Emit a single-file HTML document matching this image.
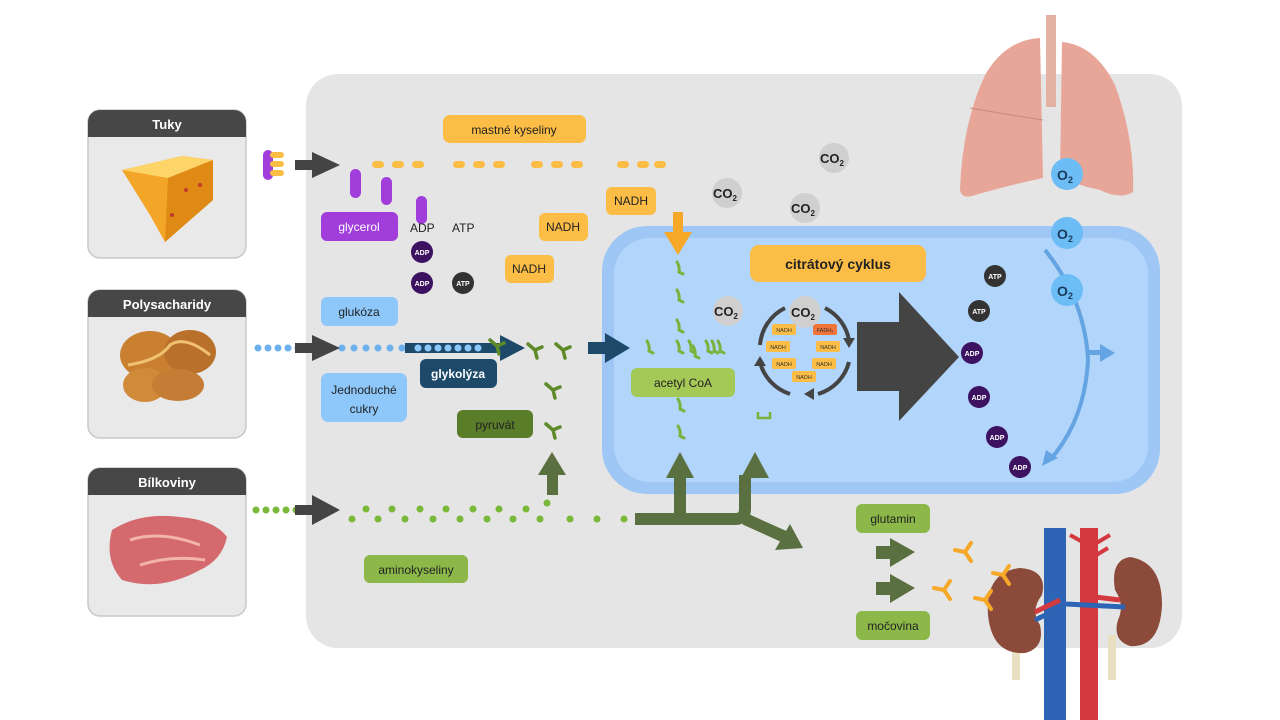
<!DOCTYPE html>
<html><head><meta charset="utf-8"><style>
html,body{margin:0;padding:0;background:#fff;}
svg{display:block;font-family:"Liberation Sans",sans-serif;}
</style></head><body>
<svg width="1280" height="720" viewBox="0 0 1280 720" xmlns="http://www.w3.org/2000/svg">
<defs>
<g id="gl"><path d="M-3,-6 Q0,-1 -1,4 L3,6" stroke="#7ab23c" stroke-width="3" fill="none" stroke-linecap="round"/></g>
<g id="py"><path d="M0,0 L-7,-6 M0,0 L7,-3 M0,0 L2,8" stroke="#5e8a2a" stroke-width="3.5" fill="none" stroke-linecap="round"/></g>
<g id="yo"><path d="M0,0 L-10,-2 M0,0 L6,-9 M0,0 L6,9" stroke="#f6a828" stroke-width="4" fill="none" stroke-linecap="round"/></g>
</defs>
<rect x="306" y="74" width="876" height="574" rx="32" fill="#e5e5e5"/>

<g>
<rect x="88" y="110" width="158" height="148" rx="12" fill="#e9e9e9" stroke="#c8c8c8" stroke-width="1.5"/>
<path d="M88,137 V122 a12,12 0 0 1 12,-12 H234 a12,12 0 0 1 12,12 V137 Z" fill="#474747"/>
<text x="167" y="129" font-size="13" font-weight="bold" fill="#fff" text-anchor="middle">Tuky</text>
<polygon points="122,170 182,156 213,160 213,200 165,242 150,215" fill="#f2a526"/>
<polygon points="122,170 182,156 213,160 168,178" fill="#fcd468"/>
<polygon points="168,178 213,160 213,200 165,242" fill="#de8a14"/>
<circle cx="200" cy="185" r="2" fill="#c0392b"/><circle cx="186" cy="190" r="2" fill="#c0392b"/><circle cx="172" cy="215" r="2" fill="#c0392b"/>

<rect x="88" y="290" width="158" height="148" rx="12" fill="#e9e9e9" stroke="#c8c8c8" stroke-width="1.5"/>
<path d="M88,317 V302 a12,12 0 0 1 12,-12 H234 a12,12 0 0 1 12,12 V317 Z" fill="#474747"/>
<text x="167" y="309" font-size="13" font-weight="bold" fill="#fff" text-anchor="middle">Polysacharidy</text>
<ellipse cx="150" cy="355" rx="30" ry="24" fill="#c98030"/>
<ellipse cx="190" cy="352" rx="26" ry="22" fill="#b8702a"/>
<ellipse cx="145" cy="385" rx="22" ry="17" fill="#d18a3a"/>
<ellipse cx="178" cy="385" rx="26" ry="16" fill="#c57d35"/>
<path d="M128,365 Q160,360 170,345 Q185,335 210,355" stroke="#f0c170" stroke-width="3" fill="none"/>

<rect x="88" y="468" width="158" height="148" rx="12" fill="#e9e9e9" stroke="#c8c8c8" stroke-width="1.5"/>
<path d="M88,495 V480 a12,12 0 0 1 12,-12 H234 a12,12 0 0 1 12,12 V495 Z" fill="#474747"/>
<text x="167" y="487" font-size="13" font-weight="bold" fill="#fff" text-anchor="middle">Bílkoviny</text>
<path d="M112,530 Q140,512 180,517 Q215,520 227,537 Q222,560 200,570 Q160,592 122,580 Q104,560 112,530 Z" fill="#d46a6e"/>
<path d="M130,540 Q160,530 200,545 M140,565 Q170,555 205,560" stroke="#f2b5a8" stroke-width="3" fill="none"/>
</g>

<!-- lungs -->
<rect x="1046" y="15" width="10" height="92" fill="#e5b1a2"/>
<path d="M1040,38 Q1005,40 985,75 Q962,125 960,190 Q962,200 975,195 Q1010,185 1043,178 Z" fill="#e8a698"/>
<path d="M1062,42 Q1095,45 1115,85 Q1135,140 1133,192 Q1120,200 1100,190 Q1075,185 1060,175 Z" fill="#e8a698"/>
<path d="M970,108 Q1010,115 1043,120" stroke="#c98a7e" fill="none"/>

<!-- mitochondrion -->
<rect x="602" y="226" width="558" height="268" rx="45" fill="#9ec7f6"/>
<rect x="614" y="238" width="534" height="244" rx="36" fill="#b2d5fb"/>

<!-- kidneys -->
<rect x="1044" y="528" width="22" height="192" fill="#2e64b5"/>
<rect x="1080" y="528" width="18" height="192" fill="#d4393f"/>
<path d="M1088,545 L1070,535 M1088,560 L1108,548 M1088,548 L1110,535" stroke="#d4393f" stroke-width="4"/>
<rect x="1012" y="640" width="8" height="40" fill="#e8e0c0"/><rect x="1108" y="635" width="8" height="45" fill="#e8e0c0"/>
<path d="M1020,568 Q985,572 988,615 Q992,655 1025,653 Q1045,648 1040,625 Q1030,610 1042,595 Q1048,570 1020,568 Z" fill="#8b4a3a"/>
<path d="M1130,557 Q1162,562 1162,605 Q1160,648 1130,646 Q1112,640 1118,620 Q1125,605 1115,590 Q1110,560 1130,557 Z" fill="#8b4a3a"/>
<path d="M1035,612 L1060,600 M1120,600 L1095,597" stroke="#d4393f" stroke-width="5"/>
<path d="M1035,620 L1060,608 M1125,607 L1066,604" stroke="#2e64b5" stroke-width="5"/>
<use href="#yo" x="965" y="552"/><use href="#yo" x="1003" y="575"/><use href="#yo" x="944" y="590"/><use href="#yo" x="985" y="600"/>

<!-- fat input -->
<rect x="263" y="150" width="10" height="30" rx="5" fill="#a03ddb"/>
<rect x="270" y="152" width="14" height="6" rx="3" fill="#fbbd45"/><rect x="270" y="161" width="14" height="6" rx="3" fill="#fbbd45"/><rect x="270" y="170" width="14" height="6" rx="3" fill="#fbbd45"/>
<rect x="295" y="160" width="20" height="10" fill="#444"/>
<polygon points="312,152 340,165 312,178" fill="#444"/>
<g fill="#fbbd45">
<rect x="372" y="161" width="12" height="7" rx="3.5"/><rect x="392" y="161" width="12" height="7" rx="3.5"/><rect x="412" y="161" width="12" height="7" rx="3.5"/>
<rect x="453" y="161" width="12" height="7" rx="3.5"/><rect x="473" y="161" width="12" height="7" rx="3.5"/><rect x="493" y="161" width="12" height="7" rx="3.5"/>
<rect x="531" y="161" width="12" height="7" rx="3.5"/><rect x="551" y="161" width="12" height="7" rx="3.5"/><rect x="571" y="161" width="12" height="7" rx="3.5"/>
<rect x="617" y="161" width="12" height="7" rx="3.5"/><rect x="637" y="161" width="12" height="7" rx="3.5"/><rect x="654" y="161" width="12" height="7" rx="3.5"/>
</g>
<g fill="#a03ddb">
<rect x="350" y="169" width="11" height="29" rx="5.5"/><rect x="381" y="177" width="11" height="28" rx="5.5"/><rect x="416" y="196" width="11" height="28" rx="5.5"/>
</g>
<rect x="443" y="115" width="143" height="28" rx="7" fill="#fbbd45"/>
<text x="514" y="134" font-size="12" text-anchor="middle" fill="#222">mastné kyseliny</text>
<rect x="321" y="212" width="77" height="29" rx="6" fill="#a03ddb"/>
<text x="359" y="231" font-size="12" text-anchor="middle" fill="#fff">glycerol</text>
<text x="410" y="232" font-size="12" fill="#222">ADP</text>
<text x="452" y="232" font-size="12" fill="#222">ATP</text>
<g font-size="7" font-weight="bold" fill="#fff" text-anchor="middle">
<circle cx="422" cy="252" r="11" fill="#3d1260"/><text x="422" y="255">ADP</text>
<circle cx="422" cy="283" r="11" fill="#3d1260"/><text x="422" y="286">ADP</text>
<circle cx="463" cy="283" r="11" fill="#333"/><text x="463" y="286">ATP</text>
</g>
<g font-size="12" text-anchor="middle" fill="#222">
<rect x="539" y="213" width="49" height="28" rx="6" fill="#fbbd45"/><text x="563" y="231">NADH</text>
<rect x="505" y="255" width="49" height="28" rx="6" fill="#fbbd45"/><text x="529" y="273">NADH</text>
<rect x="606" y="187" width="50" height="28" rx="6" fill="#fbbd45"/><text x="631" y="205">NADH</text>
</g>

<!-- carbs -->
<g fill="#6cb0ee">
<circle cx="258" cy="348" r="3.5"/><circle cx="268" cy="348" r="3.5"/><circle cx="278" cy="348" r="3.5"/><circle cx="288" cy="348" r="3.5"/><circle cx="298" cy="348" r="3.5"/><circle cx="307" cy="348" r="3.5"/>
<circle cx="342" cy="348" r="3.5"/><circle cx="354" cy="348" r="3.5"/><circle cx="366" cy="348" r="3.5"/><circle cx="378" cy="348" r="3.5"/><circle cx="390" cy="348" r="3.5"/><circle cx="402" cy="348" r="3.5"/><circle cx="414" cy="348" r="3.5"/>
</g>
<rect x="295" y="343" width="20" height="10" fill="#444"/>
<polygon points="312,335 340,348 312,361" fill="#444"/>
<rect x="405" y="343" width="95" height="10" fill="#1e4a6a"/>
<g fill="#8ec8fa"><circle cx="418" cy="348" r="3.5"/><circle cx="428" cy="348" r="3.5"/><circle cx="438" cy="348" r="3.5"/><circle cx="448" cy="348" r="3.5"/><circle cx="458" cy="348" r="3.5"/><circle cx="468" cy="348" r="3.5"/><circle cx="478" cy="348" r="3.5"/></g>
<polygon points="500,335 525,348 500,361" fill="#1e4a6a"/>
<rect x="588" y="342" width="20" height="12" fill="#1e4a6a"/>
<polygon points="605,333 630,348 605,363" fill="#1e4a6a"/>
<use href="#py" x="497" y="346"/><use href="#py" x="535" y="350"/><use href="#py" x="563" y="350"/><use href="#py" x="553" y="390"/><use href="#py" x="553" y="430"/>
<rect x="321" y="297" width="77" height="29" rx="6" fill="#8ec8fa"/>
<text x="359" y="316" font-size="12" text-anchor="middle" fill="#222">glukóza</text>
<rect x="321" y="373" width="86" height="49" rx="7" fill="#8ec8fa"/>
<text x="364" y="394" font-size="12" text-anchor="middle" fill="#222">Jednoduché</text>
<text x="364" y="413" font-size="12" text-anchor="middle" fill="#222">cukry</text>
<rect x="420" y="359" width="77" height="29" rx="6" fill="#1e4a6a"/>
<text x="458" y="378" font-size="12" font-weight="bold" text-anchor="middle" fill="#fff">glykolýza</text>
<rect x="457" y="410" width="76" height="28" rx="6" fill="#5a7d2a"/>
<text x="495" y="429" font-size="12" text-anchor="middle" fill="#222">pyruvát</text>

<!-- proteins -->
<g fill="#7ab83a">
<circle cx="256" cy="510" r="3.5"/><circle cx="266" cy="510" r="3.5"/><circle cx="276" cy="510" r="3.5"/><circle cx="286" cy="510" r="3.5"/><circle cx="296" cy="510" r="3.5"/><circle cx="305" cy="510" r="3.5"/>
<circle cx="352" cy="519" r="3.5"/><circle cx="366" cy="509" r="3.5"/><circle cx="378" cy="519" r="3.5"/><circle cx="392" cy="509" r="3.5"/><circle cx="405" cy="519" r="3.5"/><circle cx="420" cy="509" r="3.5"/><circle cx="433" cy="519" r="3.5"/><circle cx="446" cy="509" r="3.5"/><circle cx="460" cy="519" r="3.5"/><circle cx="473" cy="509" r="3.5"/><circle cx="487" cy="519" r="3.5"/><circle cx="499" cy="509" r="3.5"/><circle cx="513" cy="519" r="3.5"/><circle cx="526" cy="509" r="3.5"/><circle cx="540" cy="519" r="3.5"/><circle cx="547" cy="503" r="3.5"/><circle cx="570" cy="519" r="3.5"/><circle cx="597" cy="519" r="3.5"/><circle cx="624" cy="519" r="3.5"/>
</g>
<rect x="295" y="505" width="20" height="10" fill="#444"/>
<polygon points="312,495 340,510 312,525" fill="#444"/>
<rect x="547" y="470" width="11" height="25" fill="#5a7040"/>
<polygon points="538,475 552,452 566,475" fill="#5a7040"/>
<path d="M635,519 H735 Q745,519 745,509 V475 M680,519 V475 M745,519 L785,537" stroke="#5a7040" stroke-width="12" fill="none"/>
<polygon points="666,478 680,452 694,478" fill="#5a7040"/>
<polygon points="741,478 755,452 769,478" fill="#5a7040"/>
<polygon points="775,550 803,548 790,524" fill="#5a7040"/>
<rect x="364" y="555" width="104" height="28" rx="6" fill="#8bb848"/>
<text x="416" y="574" font-size="12" text-anchor="middle" fill="#222">aminokyseliny</text>

<rect x="856" y="504" width="74" height="29" rx="6" fill="#8bb848"/>
<text x="893" y="523" font-size="12" text-anchor="middle" fill="#222">glutamin</text>
<rect x="856" y="611" width="74" height="29" rx="6" fill="#8bb848"/>
<text x="893" y="630" font-size="12" text-anchor="middle" fill="#222">močovina</text>
<rect x="876" y="546" width="20" height="13" fill="#5a7040"/><polygon points="890,538 915,552 890,567" fill="#5a7040"/>
<rect x="876" y="582" width="20" height="13" fill="#5a7040"/><polygon points="890,574 915,588 890,603" fill="#5a7040"/>

<rect x="673" y="212" width="10" height="24" fill="#f6a828"/>
<polygon points="664,232 678,255 692,232" fill="#f6a828"/>

<use href="#gl" x="680" y="268"/><use href="#gl" x="680" y="296"/><use href="#gl" x="680" y="326"/>
<use href="#gl" x="650" y="347"/><use href="#gl" x="680" y="347"/><use href="#gl" x="692" y="347"/><use href="#gl" x="696" y="352"/><use href="#gl" x="709" y="347"/><use href="#gl" x="715" y="347"/><use href="#gl" x="721" y="347"/>
<use href="#gl" x="681" y="405"/><use href="#gl" x="681" y="432"/>
<path d="M758,412 V418 H770 V412" stroke="#7ab23c" stroke-width="2.5" fill="none"/>
<rect x="631" y="368" width="104" height="29" rx="6" fill="#a5c956"/>
<text x="683" y="387" font-size="12" text-anchor="middle" fill="#222">acetyl CoA</text>

<rect x="750" y="245" width="176" height="37" rx="9" fill="#fbbd45"/>
<text x="838" y="269" font-size="14" font-weight="bold" text-anchor="middle" fill="#222">citrátový cyklus</text>

<g stroke="#444" stroke-width="4" fill="none">
<path d="M785,308 A45,45 0 0 0 760,345"/>
<path d="M825,308 A45,45 0 0 1 849,340"/>
<path d="M849,362 A45,45 0 0 1 818,394"/>
<path d="M790,394 A45,45 0 0 1 760,362"/>
</g>
<g fill="#444">
<polygon points="843,338 855,338 849,348"/>
<polygon points="814,388 814,400 804,394"/>
<polygon points="754,366 766,366 760,356"/>
</g>
<g font-size="5.5" text-anchor="middle" fill="#333">
<rect x="772" y="324" width="24" height="11" rx="2" fill="#fbbd45"/><text x="784" y="332">NADH</text>
<rect x="813" y="324" width="24" height="11" rx="2" fill="#f07338"/><text x="825" y="332">FADH₂</text>
<rect x="766" y="341" width="24" height="11" rx="2" fill="#fbbd45"/><text x="778" y="349">NADH</text>
<rect x="816" y="341" width="24" height="11" rx="2" fill="#fbbd45"/><text x="828" y="349">NADH</text>
<rect x="772" y="358" width="24" height="11" rx="2" fill="#fbbd45"/><text x="784" y="366">NADH</text>
<rect x="812" y="358" width="24" height="11" rx="2" fill="#fbbd45"/><text x="824" y="366">NADH</text>
<rect x="792" y="371" width="24" height="11" rx="2" fill="#fbbd45"/><text x="804" y="379">NADH</text>
</g>

<g font-size="13" font-weight="bold" fill="#222" text-anchor="middle">
<circle cx="834" cy="158" r="15" fill="#cfcfcf"/><text x="832" y="163">CO<tspan font-size="8" dy="3">2</tspan></text>
<circle cx="727" cy="193" r="15" fill="#cfcfcf"/><text x="725" y="198">CO<tspan font-size="8" dy="3">2</tspan></text>
<circle cx="805" cy="208" r="15" fill="#cfcfcf"/><text x="803" y="213">CO<tspan font-size="8" dy="3">2</tspan></text>
<circle cx="728" cy="311" r="15" fill="#cfcfcf"/><text x="726" y="316">CO<tspan font-size="8" dy="3">2</tspan></text>
<circle cx="805" cy="312" r="16" fill="#cfcfcf"/><text x="803" y="317">CO<tspan font-size="8" dy="3">2</tspan></text>
</g>

<rect x="857" y="322" width="45" height="69" fill="#444"/>
<polygon points="899,292 959,357 899,421" fill="#444"/>

<path d="M1045,250 Q1085,300 1088,360 Q1085,420 1050,460" stroke="#64a4e2" stroke-width="4" fill="none"/>
<polygon points="1042,466 1046,450 1058,458" fill="#64a4e2"/>
<rect x="1088" y="350" width="14" height="5" fill="#64a4e2"/>
<polygon points="1100,344 1115,353 1100,362" fill="#64a4e2"/>
<g font-size="14" font-weight="bold" fill="#1a3a5a" text-anchor="middle">
<circle cx="1067" cy="174" r="16" fill="#6cbcf5"/><text x="1065" y="180">O<tspan font-size="9" dy="3">2</tspan></text>
<circle cx="1067" cy="233" r="16" fill="#6cbcf5"/><text x="1065" y="239">O<tspan font-size="9" dy="3">2</tspan></text>
<circle cx="1067" cy="290" r="16" fill="#6cbcf5"/><text x="1065" y="296">O<tspan font-size="9" dy="3">2</tspan></text>
</g>
<g font-size="7" font-weight="bold" fill="#fff" text-anchor="middle">
<circle cx="995" cy="276" r="11" fill="#333"/><text x="995" y="279">ATP</text>
<circle cx="979" cy="311" r="11" fill="#333"/><text x="979" y="314">ATP</text>
<circle cx="972" cy="353" r="11" fill="#3d1260"/><text x="972" y="356">ADP</text>
<circle cx="979" cy="397" r="11" fill="#3d1260"/><text x="979" y="400">ADP</text>
<circle cx="997" cy="437" r="11" fill="#3d1260"/><text x="997" y="440">ADP</text>
<circle cx="1020" cy="467" r="11" fill="#3d1260"/><text x="1020" y="470">ADP</text>
</g>
</svg>
</body></html>
